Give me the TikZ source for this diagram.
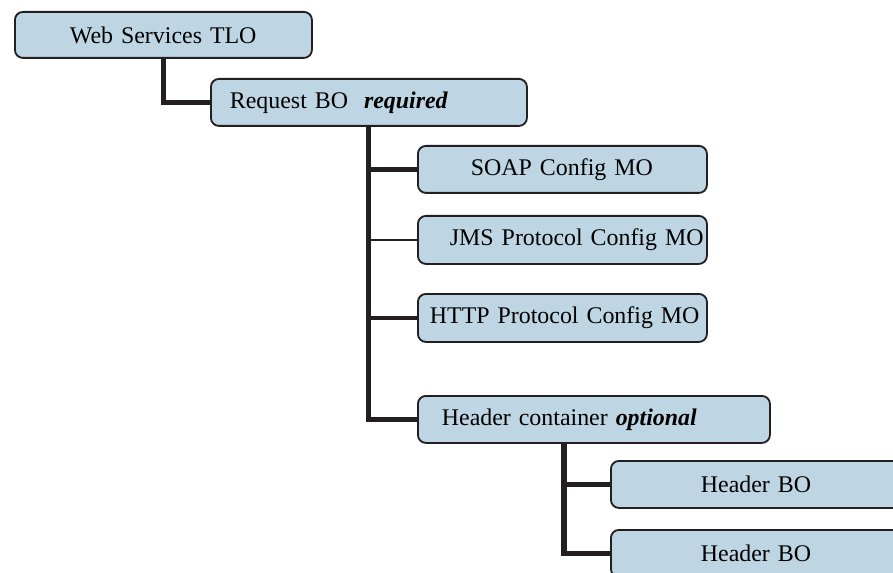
\documentclass[tikz,border=0pt]{standalone}
\usepackage{fontspec}
\setmainfont{Liberation Serif}
\usepackage{tikz}
\usetikzlibrary{calc}
\definecolor{boxfill}{RGB}{190,214,227}
\definecolor{linedark}{RGB}{35,31,32}
\tikzstyle{every node}=[font=\fontsize{17}{20}\selectfont]
\tikzstyle{objbox}=[draw=linedark,fill=boxfill,line width=1.3pt,rounded corners=0.2cm,anchor=north west,inner xsep=0pt,inner ysep=0pt,align=left,minimum height=1.175cm]
\tikzstyle{thickline}=[draw=linedark,line width=3.6pt]
\tikzstyle{midline}=[draw=linedark,line width=2.7pt]
\tikzstyle{thinline}=[draw=linedark,line width=1.2pt]

\begin{document}
\begin{tikzpicture}

\useasboundingbox (0,0) rectangle (22.325,-14.325);

\node[objbox,text width=7.425cm,minimum height=1.15cm] (tlo) at (0.35,-0.275) {\hspace*{1.375cm}Web Services TLO};
\node[objbox,text width=7.9cm] (req) at (5.25,-1.95) {\hspace*{0.475cm}Request BO~ \textbf{\textit{required}}};

\node[objbox,text width=7.225cm] (soap) at (10.425,-3.625) {\hspace*{1.325cm}SOAP Config MO};
\node[objbox,text width=7.225cm,minimum height=1.2cm] (jms) at (10.425,-5.375) {\hspace*{0.8cm}JMS Protocol Config MO};
\node[objbox,text width=7.225cm,minimum height=1.2cm] (http) at (10.425,-7.325) {\hspace*{0.3cm}HTTP Protocol Config MO};
\node[objbox,text width=8.8cm] (hc) at (10.425,-9.875) {\hspace*{0.6cm}Header container \textbf{\textit{optional}}};

\node[objbox,text width=7.5cm] (hbo1) at (15.25,-11.5) {\hspace*{2.25cm}Header BO};
\node[objbox,text width=7.5cm] (hbo2) at (15.25,-13.225) {\hspace*{2.25cm}Header BO};

\draw[thickline] (tlo.south) |- (req.west);

\draw[thickline] (req.south) |- (hc.west);
\draw[thickline] (req.south |- soap.west) -- (soap.west);
\draw[thinline] (req.south |- jms.west) -- (jms.west);
\draw[midline] (req.south |- http.west) -- (http.west);

\coordinate (hctrunk) at ($(hc.south west)+(3.675,0)$);
\draw[thickline] (hctrunk) |- (hbo2.west);
\draw[thickline] (hctrunk |- hbo1.west) -- (hbo1.west);

\end{tikzpicture}
\end{document}
